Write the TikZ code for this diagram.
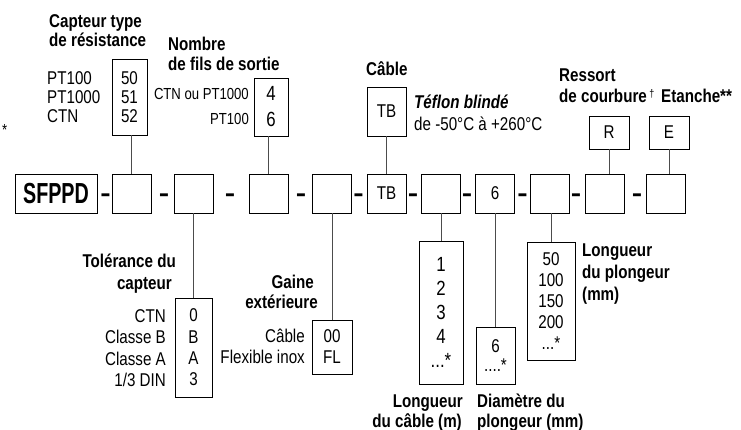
\documentclass[tikz,border=0pt]{standalone}
\usepackage{fontspec}
\setmainfont[FakeStretch=0.82]{Liberation Sans}
\newfontfamily\dashfont[FakeStretch=1.3]{Liberation Sans}
\newfontfamily\sfppdfont[FakeStretch=0.68]{Liberation Sans}
\newcommand\fsz[2]{\fontsize{#1}{#2}\selectfont}
\begin{document}
\begin{tikzpicture}[x=1pt,y=-1pt,
  box/.style={draw=black,line width=0.8pt,inner sep=0,minimum width=39pt,minimum height=39pt,font=\fsz{18.5}{20}},
  lst/.style={draw=black,line width=0.8pt,inner sep=0,align=center},
  lbl/.style={inner sep=0,font=\fsz{18.5}{20}},
  small/.style={inner sep=0,font=\fsz{16}{18}},
  hd/.style={inner sep=0,font=\fsz{18.5}{20}\bfseries},
  conn/.style={draw=black!70,line width=0.9pt},
  sep/.style={inner sep=0,anchor=base,font=\dashfont\fsz{24}{24}\bfseries},
]
\useasboundingbox (0,0) rectangle (741,430);

% ---- main row ----
\node[box,minimum width=82pt,font=\sfppdfont\fsz{29}{29}\bfseries] (sf) at (56,193.5) {SFPPD};
\node[box] (b1) at (131.5,193.5) {};
\node[box] (b2) at (193.5,193.5) {};
\node[box] (b3) at (268.5,193.5) {};
\node[box] (b4) at (331.5,193.5) {};
\node[box] (b5) at (386.5,193.5) {TB};
\node[box] (b6) at (440.5,193.5) {};
\node[box] (b7) at (495,193.5) {6};
\node[box] (b8) at (549.5,193.5) {};
\node[box] (b9) at (605,193.5) {};
\node[box] (b10) at (665.5,193.5) {};

\node[sep] (d1) at (105.5,202) {-};
\node[sep] (d2) at (164,202) {-};
\node[sep] (d3) at (230,202) {-};
\node[sep] (d4) at (301,202) {-};
\node[sep] (d5) at (358.5,202) {-};
\node[sep] (d6) at (413,202) {-};
\node[sep] (d7) at (467,202) {-};
\node[sep] (d8) at (522.5,202) {-};
\node[sep] (d9) at (576,202) {-};
\node[sep] (d10) at (637,202) {-};

% ---- capteur type ----
\node[hd,anchor=base west] (h1a) at (49,28) {Capteur type};
\node[hd,anchor=base west] (h1b) at (49,47) {de résistance};
\node[lbl,anchor=base west] (r1) at (47,85) {PT100};
\node[lbl,anchor=base west] (r2) at (47,104) {PT1000};
\node[lbl,anchor=base west] (r3) at (47,123) {CTN};
\node[lst,minimum width=35pt,minimum height=76pt,font=\fsz{18.5}{19.3}] (res) at (129.5,97) {50\\51\\52};
\node[inner sep=0,anchor=base west,font=\fsz{16}{16}] (star) at (2,136) {*};

% ---- nombre de fils ----
\node[hd,anchor=base west] (h2a) at (168,50.7) {Nombre};
\node[hd,anchor=base west] (h2b) at (168,70.7) {de fils de sortie};
\node[small,anchor=base east] (f1) at (249,100) {CTN ou PT1000};
\node[small,anchor=base east] (f2) at (249,125) {PT100};
\node[lst,minimum width=34pt,minimum height=58pt,font=\fsz{20.5}{26}] (fils) at (271,107) {4\\6};

% ---- cable ----
\node[hd,anchor=base west] (h3) at (366,76) {Câble};
\node[box,minimum height=49pt] (tb) at (386.5,111.5) {TB};
\node[hd,anchor=base west,font=\fsz{18.5}{20}\bfseries\itshape] (tef) at (414,109) {Téflon blindé};
\node[lbl,anchor=base west] (temp) at (414,131) {de -50°C à +260°C};

% ---- ressort / etanche ----
\node[hd,anchor=base west] (h4a) at (559,82) {Ressort};
\node[hd,anchor=base west] (h4b) at (559,103) {de courbure\raisebox{5.5pt}{\fsz{11}{11}\mdseries\ †}};
\node[hd,anchor=base west] (h5) at (661,103) {Etanche**};
\node[box,minimum width=40pt,minimum height=33pt] (rr) at (609,132.5) {R};
\node[box,minimum width=40pt,minimum height=33pt] (ee) at (669,132.5) {E};

% ---- tolerance ----
\node[hd,anchor=base east] (h6a) at (176,268) {Tolérance du};
\node[hd,anchor=base east] (h6b) at (172,289) {capteur};
\node[lbl,anchor=base east] (t1) at (166,322.5) {CTN};
\node[lbl,anchor=base east] (t2) at (166,343.8) {Classe B};
\node[lbl,anchor=base east] (t3) at (166,365.1) {Classe A};
\node[lbl,anchor=base east] (t4) at (166,386.4) {1/3 DIN};
\node[lst,minimum width=37pt,minimum height=99pt,font=\fsz{18.5}{21.3}] (tol) at (193.5,347.5) {0\\B\\A\\3};

% ---- gaine ----
\node[hd,anchor=base east] (h7a) at (314,288) {Gaine};
\node[hd,anchor=base east] (h7b) at (318,308) {extérieure};
\node[lbl,anchor=base east] (g1) at (305,342) {Câble};
\node[lbl,anchor=base east] (g2) at (305,363) {Flexible inox};
\node[lst,minimum width=40pt,minimum height=54pt,font=\fsz{18.5}{21}] (gai) at (332,347) {00\\FL};

% ---- longueur cable ----
\node[lst,minimum width=44pt,minimum height=143pt,font=\fsz{20.5}{24}] (lc) at (441,312.5) {1\\2\\3\\4\\...*};
\node[hd,anchor=base east] (h8a) at (463,407) {Longueur};
\node[hd,anchor=base east] (h8b) at (462,427) {du câble (m)};

% ---- diametre ----
\node[lst,minimum width=39pt,minimum height=57pt,font=\fsz{18.5}{19}] (dia) at (495.5,355.5) {6\\....*};
\node[hd,anchor=base west] (h9a) at (477,407) {Diamètre du};
\node[hd,anchor=base west] (h9b) at (477,427) {plongeur (mm)};

% ---- longueur plongeur ----
\node[lst,minimum width=48pt,minimum height=118pt,font=\fsz{18.5}{21}] (lp) at (551,301) {50\\100\\150\\200\\...*};
\node[hd,anchor=base west] (h10a) at (582,257) {Longueur};
\node[hd,anchor=base west] (h10b) at (582,278) {du plongeur};
\node[hd,anchor=base west] (h10c) at (582,300) {(mm)};

% ---- connectors ----
\draw[conn] (b1.north) -- (b1.north |- res.south);
\draw[conn] (b3.north) -- (b3.north |- fils.south);
\draw[conn] (b5.north) -- (tb.south);
\draw[conn] (rr.south) -- (rr.south |- b9.north);
\draw[conn] (ee.south) -- (ee.south |- b10.north);
\draw[conn] (b2.south) -- (tol.north);
\draw[conn] (gai.north) -- (gai.north |- b4.south);
\draw[conn] (lc.north) -- (lc.north |- b6.south);
\draw[conn] (dia.north) -- (dia.north |- b7.south);
\draw[conn] (lp.north) -- (lp.north |- b8.south);
\end{tikzpicture}
\end{document}
